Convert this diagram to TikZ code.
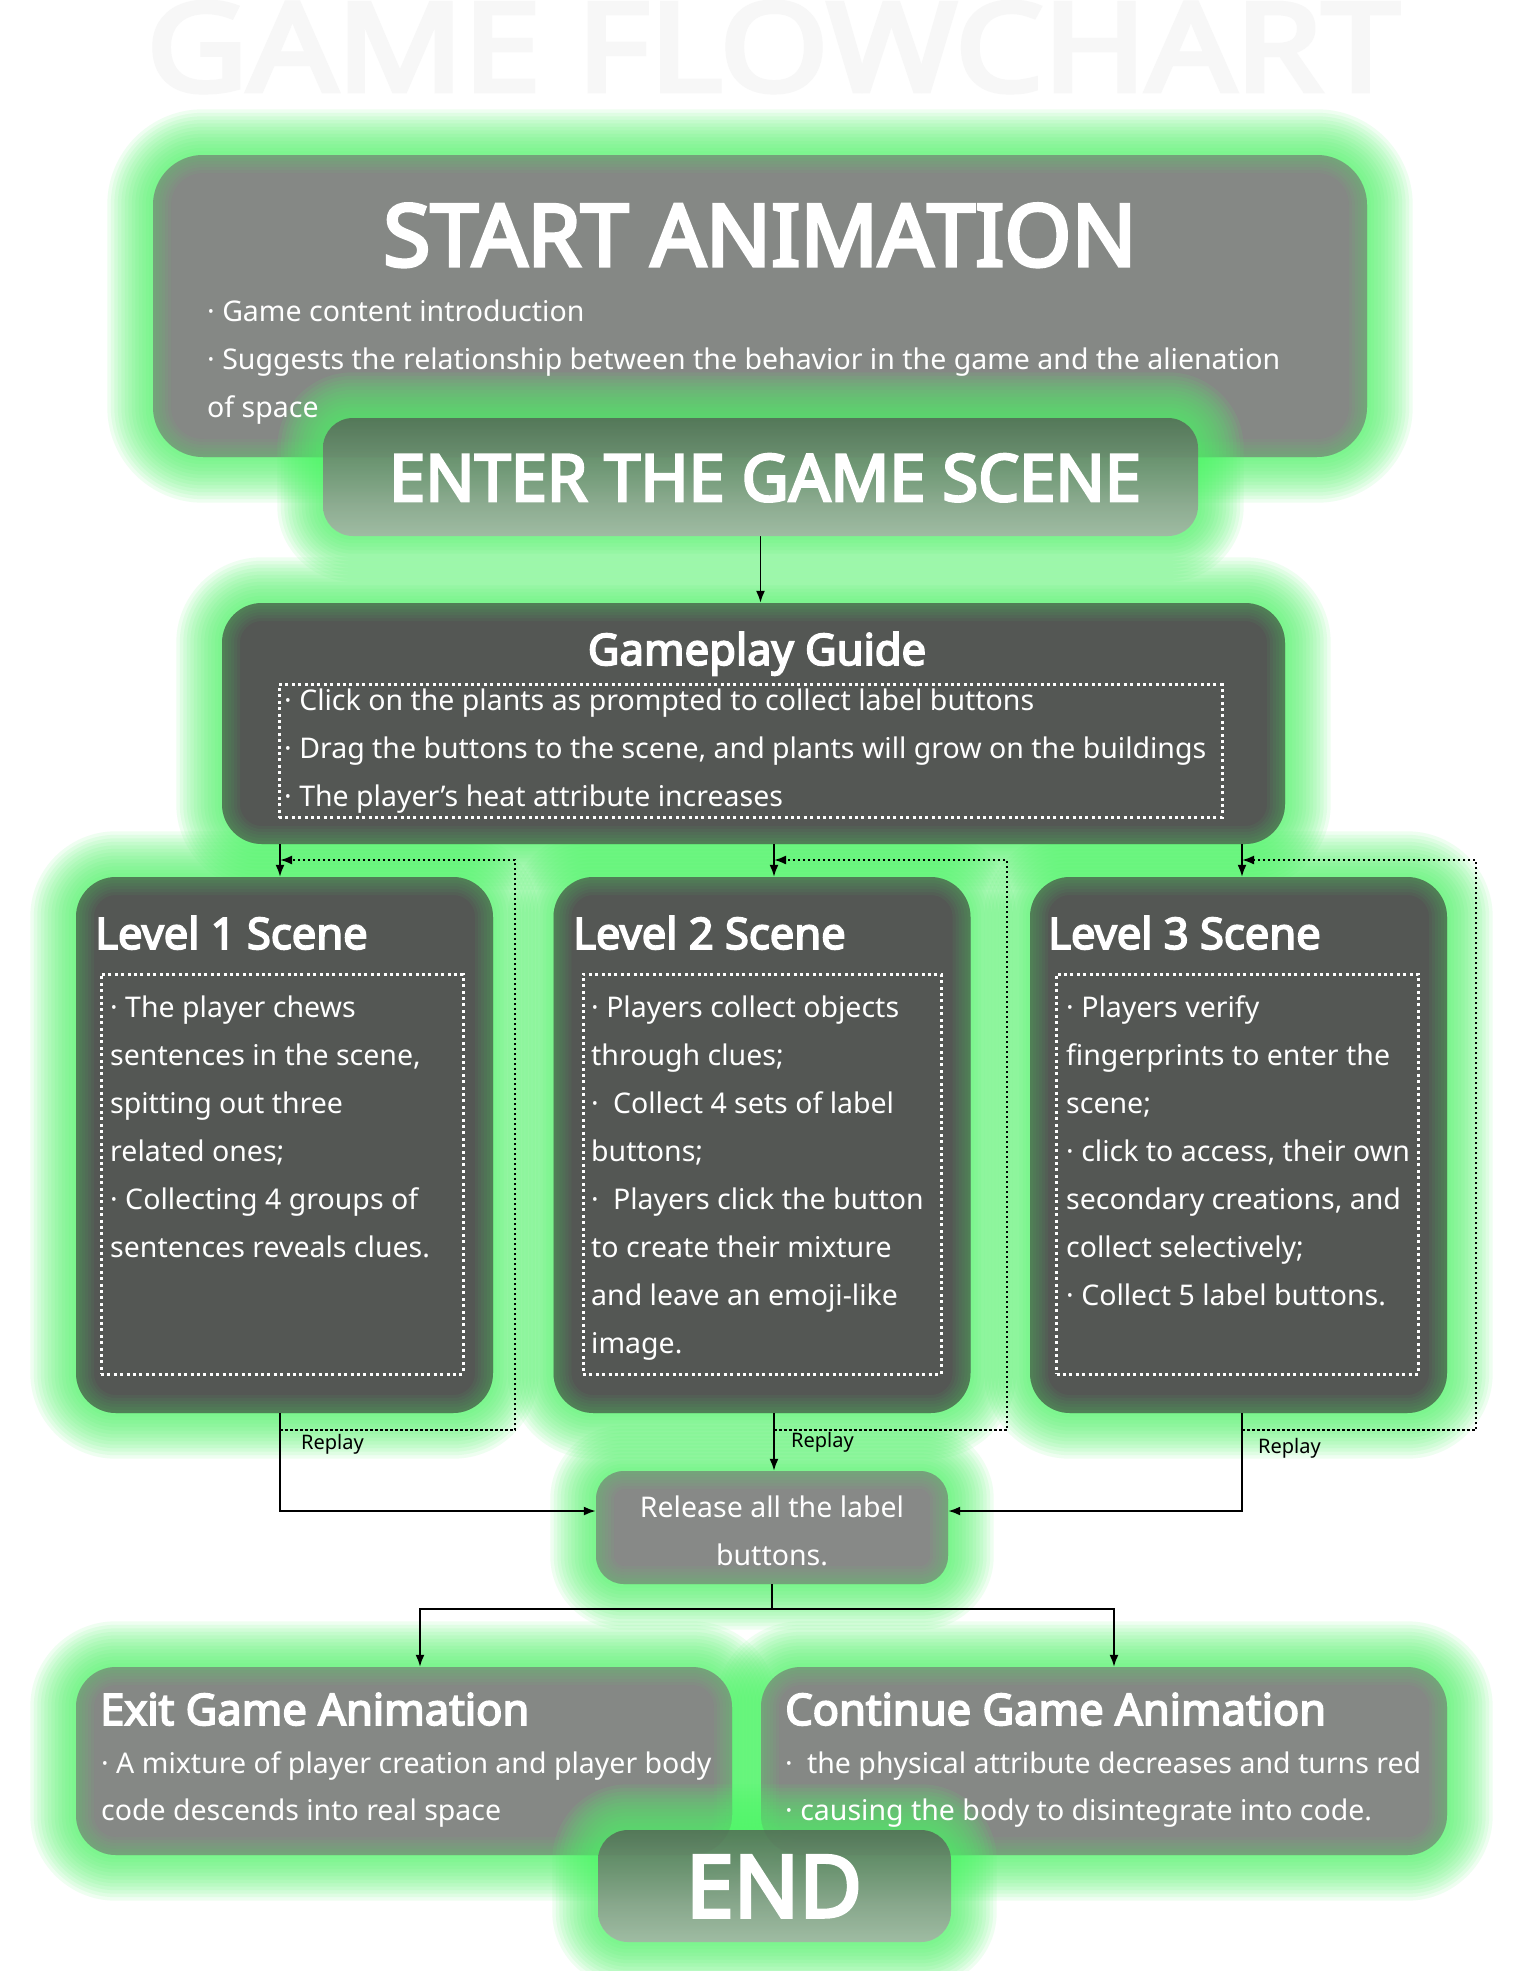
\documentclass[tikz,border=0pt]{standalone}
\usepackage{fontspec}
\usepackage{graphicx}
\setmainfont{Noto Sans}[AutoFakeBold=4]
\usetikzlibrary{arrows.meta,positioning}
\pgfdeclarelayer{bg}
\pgfdeclarelayer{glow}
\pgfdeclarelayer{upper}
\pgfsetlayers{bg,glow,main,upper}
\definecolor{glowgreen}{RGB}{80,245,105}
\definecolor{lightbox}{HTML}{858885}
\definecolor{darkbox}{HTML}{545754}
\definecolor{relbox}{HTML}{878987}
\definecolor{fadetop}{RGB}{82,98,84}
\definecolor{fadebot}{RGB}{168,174,168}
% green halo round a named box
\newcommand{\glowfor}[2]{%
  \foreach \g in {1,...,13}
    \fill[glowgreen,fill opacity=0.095,rounded corners={#2+3.5*\g}]
      ([shift={(-3.5*\g,-3.5*\g)}]#1.north west) rectangle ([shift={(3.5*\g,3.5*\g)}]#1.south east);}
\begin{document}
\begin{tikzpicture}[x=1pt,y=-1pt,
  innerglow/.style={path picture={\foreach \g in {1,...,6}
    \draw[glowgreen,draw opacity=0.05,line width=\g*6pt,rounded corners=#1]
      (path picture bounding box.north west) rectangle (path picture bounding box.south east);}},
  lightdecorate/.style={shape=rectangle,inner sep=0pt,fill=lightbox},
  darkdecorate/.style={shape=rectangle,inner sep=0pt,fill=darkbox,rounded corners=40,innerglow=40},
  fadedecorate/.style={shape=rectangle,inner sep=0pt,fill opacity=0.8,top color=fadetop,bottom color=fadebot},
  dotdecorate/.style={shape=rectangle,inner sep=0pt,draw=white,line width=3pt,dash pattern=on 3pt off 3.4pt},
  linedecorate/.style={line width=1.8pt,-{Latex[length=12pt,width=9pt]}},
  replaydecorate/.style={line width=2pt,dash pattern=on 2.5pt off 2.5pt,-{Latex[length=12pt,width=9pt]}},
  bodytext/.style={inner sep=0pt,anchor=base west,text=white,font=\fontsize{28.5}{34}\selectfont},
  headtext/.style={inner sep=0pt,text=white,font=\bfseries\fontsize{43.5}{50}\selectfont},
  replaytext/.style={inner sep=0pt,anchor=base west,font=\fontsize{20}{24}\selectfont}]
\begin{pgfonlayer}{bg}
\fill[white] (0,0) rectangle (1524,1971);
\end{pgfonlayer}
\useasboundingbox (0,0) rectangle (1524,1971);
%%% title
\node (title) at (773,47) [inner sep=0pt,text=black!3] {\resizebox{1252pt}{89pt}{\bfseries GAME FLOWCHART}};
%
%%% start animation, with the enter box over it
\node (start) at (760,306) [lightdecorate,rounded corners=50,innerglow=50,minimum width=1214,minimum height=302] {};
\begin{pgfonlayer}{upper}
\node (enter) at (760.5,477) [fadedecorate,rounded corners=30,minimum width=875,minimum height=118] {};
\node (enterhead) at (765,501) [headtext,anchor=base,font=\bfseries\fontsize{65}{70}\selectfont] {ENTER THE GAME SCENE};
\end{pgfonlayer}
\glowfor{enter}{30}
\node (starthead) at (760,266) [headtext,anchor=base,font=\bfseries\fontsize{86}{90}\selectfont] {START ANIMATION};
\node (startA) at (207,321) [bodytext] {· Game content introduction};
\node (startB) at (207,369) [bodytext] {· Suggests the relationship between the behavior in the game and the alienation};
\node (startC) at (207,417) [bodytext] {of space};
%
%%% gameplay guide
\node (guide) at (753.5,723.5) [darkdecorate,minimum width=1063,minimum height=241] {};
\node (guidehead) at (757,665) [headtext,anchor=base] {Gameplay Guide};
\node (guidebox) at (750.5,751) [dotdecorate,minimum width=943,minimum height=133] {};
\node (guideA) at (284,710) [bodytext] {· Click on the plants as prompted to collect label buttons};
\node (guideB) at (284,758) [bodytext] {· Drag the buttons to the scene, and plants will grow on the buildings};
\node (guideC) at (284,806) [bodytext] {· The player's heat attribute increases};
%
%%% three level scenes
\node (lvA) at (284.5,1145) [darkdecorate,minimum width=417,minimum height=536] {};
\node (lvB) at (762,1145) [darkdecorate,minimum width=417,minimum height=536] {};
\node (lvC) at (1238.5,1145) [darkdecorate,minimum width=417,minimum height=536] {};
\node (boxA) at (282,1174) [dotdecorate,minimum width=362,minimum height=400] {};
\node (boxB) at (762,1174) [dotdecorate,minimum width=358,minimum height=400] {};
\node (boxC) at (1237.5,1174) [dotdecorate,minimum width=362,minimum height=400] {};
\node (headA) at (95,949) [headtext,anchor=base west] {Level 1 Scene};
\node (headB) at (573,949) [headtext,anchor=base west] {Level 2 Scene};
\node (headC) at (1048,949) [headtext,anchor=base west] {Level 3 Scene};
\foreach \t [count=\i] in {{· The player chews},{sentences in the scene,},{spitting out three},
    {related ones;},{· Collecting 4 groups of},{sentences reveals clues.}}
  \node (txA\i) at (110,{1017+48*(\i-1)}) [bodytext] {\t};
\foreach \t [count=\i] in {{· Players collect objects},{through clues;},{·\enspace Collect 4 sets of label},
    {buttons;},{·\enspace Players click the button},{to create their mixture},{and leave an emoji-like},{image.}}
  \node (txB\i) at (591,{1017+48*(\i-1)}) [bodytext] {\t};
\foreach \t [count=\i] in {{· Players verify},{fingerprints to enter the},{scene;},
    {· click to access, their own},{secondary creations, and},{collect selectively;},{· Collect 5 label buttons.}}
  \node (txC\i) at (1066,{1017+48*(\i-1)}) [bodytext] {\t};
%
%%% release all the label buttons
\node (release) at (772,1527.5) [lightdecorate,fill=relbox,rounded corners=28,innerglow=28,minimum width=352,minimum height=113] {};
\node (relA) at (772,1517) [bodytext,anchor=base] {Release all the label};
\node (relB) at (772,1565) [bodytext,anchor=base] {buttons.};
%
%%% exit and continue, with the end box over them
\node (exit) at (404,1761) [lightdecorate,rounded corners=40,innerglow=40,minimum width=656,minimum height=188] {};
\node (cont) at (1104,1761) [lightdecorate,rounded corners=40,innerglow=40,minimum width=686,minimum height=188] {};
\begin{pgfonlayer}{upper}
\node (end) at (774.5,1886) [fadedecorate,rounded corners=30,minimum width=353,minimum height=112] {};
\node (endhead) at (774,1917) [headtext,anchor=base,font=\bfseries\fontsize{86}{92}\selectfont] {END};
\end{pgfonlayer}
\glowfor{end}{30}
\node (exithead) at (100,1725) [headtext,anchor=base west] {Exit Game Animation};
\node (exitA) at (101,1773) [bodytext] {· A mixture of player creation and player body};
\node (exitB) at (101,1820) [bodytext] {code descends into real space};
\node (conthead) at (785,1725) [headtext,anchor=base west] {Continue Game Animation};
\node (contA) at (785,1773) [bodytext] {·\enspace the physical attribute decreases and turns red};
\node (contB) at (785,1820) [bodytext] {· causing the body to disintegrate into code.};
%
%%% halos behind the boxes
\begin{pgfonlayer}{glow}
\glowfor{start}{50}
\glowfor{guide}{40}
\glowfor{lvA}{40}
\glowfor{lvB}{40}
\glowfor{lvC}{40}
\glowfor{release}{28}
\glowfor{exit}{40}
\glowfor{cont}{40}
\end{pgfonlayer}
%
%%% connectors
\coordinate (cA) at (280,1430);
\coordinate (cB) at (774,1430);
\coordinate (cC) at (1242,1430);
\coordinate (loopA) at (515,860);
\coordinate (loopB) at (1007,860);
\coordinate (loopC) at (1476,860);
\coordinate (relin) at (772,1511);
\coordinate (forkA) at (420,1609);
\coordinate (forkB) at (1114,1609);
\draw[linedecorate] (enter.south) -- (enter.south |- guide.north);
\draw[linedecorate] (cA |- guide.south) -- (cA |- lvA.north);
\draw[linedecorate] (cB |- guide.south) -- (cB |- lvB.north);
\draw[linedecorate] (cC |- guide.south) -- (cC |- lvC.north);
\draw[replaydecorate] (cA) -| (loopA) -- (loopA -| cA);
\draw[replaydecorate] (cB) -| (loopB) -- (loopB -| cB);
\draw[replaydecorate] (cC) -| (loopC) -- (loopC -| cC);
\draw[linedecorate] (cA |- lvA.south) |- (relin -| release.west);
\draw[linedecorate] (cB |- lvB.south) -- (cB |- release.north);
\draw[linedecorate] (cC |- lvC.south) |- (relin -| release.east);
\draw[line width=1.8pt] (release.south) -- (release.south |- forkA);
\draw[linedecorate] (release.south |- forkA) -- (forkA) -- (forkA |- exit.north);
\draw[linedecorate] (release.south |- forkB) -- (forkB) -- (forkB |- cont.north);
\node (rpA) at (301,1449) [replaytext] {Replay};
\node (rpB) at (791,1447) [replaytext] {Replay};
\node (rpC) at (1258,1453) [replaytext] {Replay};
\end{tikzpicture}
\end{document}
